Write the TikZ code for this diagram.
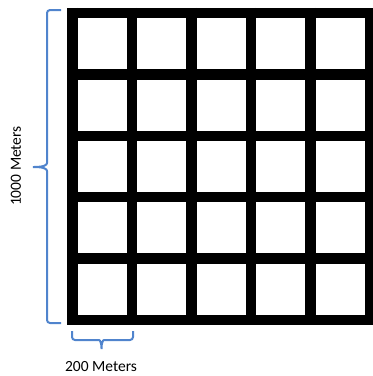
\documentclass[tikz,border=0pt]{standalone}
\usepackage{fontspec}
\setmainfont{Carlito}
\usepackage{tikz}
\definecolor{braceblue}{RGB}{80,132,205}

\begin{document}
\begin{tikzpicture}[x=1pt,y=-1pt,font=\fontsize{15.5}{18}\selectfont,
  gridline/.style={line width=10.5pt,black},
  bracket/.style={braceblue,line width=2pt,rounded corners=3pt}]
\useasboundingbox (0,0) rectangle (373,376);
% grid of 5 x 5 blocks
\foreach \gx in {72.5,132,191.5,251,310.5,370} \draw[gridline] (\gx,7.75)--(\gx,325.25);
\foreach \gy in {13,74.4,135.8,197.2,258.6,320} \draw[gridline] (67.25,\gy)--(375,\gy);
% braces and labels
\node[rotate=90,inner sep=0pt] (side) at (16,166) {1000 Meters};
\node[inner sep=0pt] (cell) at (101,367) {200 Meters};
\draw[bracket] (61,10)-|(47,160) .. controls (47,165) and (44,167) .. (31,167)
  .. controls (44,167) and (47,169) .. (47,174) |- (61,323);
\draw[bracket] (72,331)|-(96,340) .. controls (100,340) and (101.5,343) .. (101.5,351)
  .. controls (101.5,343) and (103,340) .. (107,340) -| (133,331);
\end{tikzpicture}
\end{document}
